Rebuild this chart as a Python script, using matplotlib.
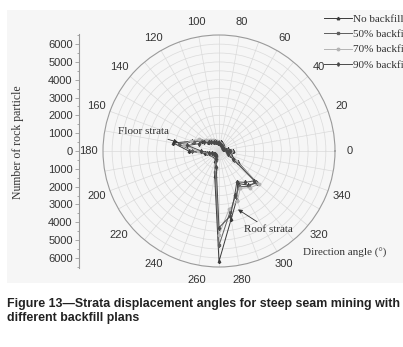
import numpy as np
import matplotlib
matplotlib.use('Agg')
from matplotlib import pyplot as plt
from matplotlib.patches import Rectangle
from matplotlib.ticker import FuncFormatter, MultipleLocator

# direction angle bins (deg), particle counts per bin
angles = list(range(0, 360, 10))

no_backfill = [800, 500, 350, 300, 300, 350, 400, 450, 500, 450, 500, 550,
               600, 700, 800, 1100, 1600, 2600, 1700, 800, 500, 400, 350, 350,
               400, 600, 1400, 6200, 3900, 2900, 2100, 2500, 2800, 1200, 700, 600]
backfill_50 = [700, 450, 300, 280, 300, 320, 380, 420, 480, 500, 520, 600,
               650, 750, 900, 1200, 1500, 2300, 1500, 700, 450, 380, 320, 330,
               380, 550, 1200, 5300, 3500, 2700, 2300, 2600, 2700, 1000, 650, 550]
backfill_70 = [650, 400, 320, 300, 280, 300, 350, 400, 450, 520, 560, 620,
               700, 800, 950, 1300, 1700, 2000, 1200, 600, 420, 360, 330, 320,
               360, 500, 1000, 4700, 3300, 3000, 2400, 2700, 2900, 1100, 600, 500]
backfill_90 = [600, 380, 280, 260, 260, 300, 330, 380, 420, 450, 480, 550,
               600, 680, 750, 1000, 1200, 1800, 1000, 550, 400, 340, 300, 300,
               340, 480, 900, 4300, 3700, 2600, 2000, 2300, 2600, 900, 550, 450]

series = [('No backfill', no_backfill, '#3a3a3a', '^'),
          ('50% backfill', backfill_50, '#5e5e5e', 's'),
          ('70% backfill', backfill_70, '#b4b4b4', 'o'),
          ('90% backfill', backfill_90, '#4a4a4a', 'd')]

RMAX = 6400
W, H = 403, 347

fig = plt.figure(figsize=(W / 100, H / 100), dpi=100)
fig.patch.set_facecolor('white')
fig.patches.append(Rectangle((7 / W, 1 - 283 / H), 1, (283 - 10) / H,
                             transform=fig.transFigure, facecolor='#f6f6f6',
                             edgecolor='none', zorder=-10))

# polar panel: centre (219, 151) px, radius 116 px
cx, cy, rad = 219, 151, 116
ax = fig.add_axes([(cx - rad) / W, 1 - (cy + rad) / H, 2 * rad / W, 2 * rad / H],
                  projection='polar')
ax.set_facecolor('none')
ax.set_ylim(0, RMAX * rad / 114)
ax.set_rgrids(np.arange(500, RMAX, 500), labels=[])
tg = list(range(0, 360, 10))
ax.set_thetagrids(tg, labels=[str(a) if a % 20 == 0 else '' for a in tg],
                  fontsize=8, color='#333333', family='Liberation Sans')
ax.tick_params(axis='x', pad=0)
ax.grid(color='#dadada', lw=0.5)
ax.spines['polar'].set_color('#9a9a9a')
ax.spines['polar'].set_linewidth(0.8)

th = np.deg2rad(angles + [360])
for label, vals, col, mk in series:
    ax.plot(th, vals + vals[:1], color=col, lw=0.7, marker=mk, ms=1.8,
            label=label, zorder=3)

ann = dict(arrowstyle='-|>', lw=0.6, color='#333333', mutation_scale=6,
           shrinkA=0, shrinkB=0)
ax.annotate('Floor strata', xy=(np.deg2rad(168), 2350),
            xytext=(118 / W, 1 - 132 / H), textcoords='figure fraction',
            va='center', ha='left', fontsize=8, family='Liberation Serif',
            color='#333333', arrowprops=ann)
ax.annotate('Roof strata', xy=(np.deg2rad(288), 3450),
            xytext=(244 / W, 1 - 229 / H), textcoords='figure fraction',
            va='center', ha='left', fontsize=8, family='Liberation Serif',
            color='#333333', arrowprops=ann)

# vertical count axis on the left
ext = RMAX * 117 / 114
ax2 = fig.add_axes([79 / W, 1 - (cy + 117) / H, 0.001, 234 / H])
ax2.set_facecolor('none')
ax2.set_ylim(-ext, ext)
ax2.set_xticks([])
for s in ['right', 'top', 'bottom']:
    ax2.spines[s].set_visible(False)
ax2.spines['left'].set_color('#9a9a9a')
ax2.spines['left'].set_linewidth(0.8)
ax2.yaxis.set_major_locator(MultipleLocator(1000))
ax2.yaxis.set_minor_locator(MultipleLocator(500))
ax2.yaxis.set_major_formatter(FuncFormatter(lambda v, p: '%d' % abs(round(v))))
ax2.tick_params(axis='y', which='both', colors='#9a9a9a', labelcolor='#333333',
                labelsize=8, length=3, width=0.6, pad=1.5)
ax2.tick_params(axis='y', which='minor', length=1.8)
for t in ax2.get_yticklabels():
    t.set_family('Liberation Sans')

fig.text(18 / W, 1 - 142 / H, 'Number of rock particle', rotation=90,
         ha='center', va='center', fontsize=8.5, family='Liberation Serif',
         color='#333333')
fig.text(303 / W, 1 - 253 / H, 'Direction angle (°)', ha='left', va='center',
         fontsize=8, family='Liberation Serif', color='#333333')

fig.legend(loc='upper left', bbox_to_anchor=(324 / W, 1 - 14 / H),
           frameon=False, prop={'family': 'Liberation Serif', 'size': 8},
           handlelength=2.5, handletextpad=0.1, labelspacing=0.5,
           borderaxespad=0, borderpad=0, labelcolor='#333333')

fig.text(7 / W, 1 - 311 / H,
         'Figure 13\u2014Strata displacement angles for steep seam mining with\n'
         'different backfill plans', ha='left', va='center', fontsize=8.9,
         fontweight='bold', family='Liberation Sans', color='#222222',
         linespacing=1.3)

plt.savefig('out.png', dpi=100)
